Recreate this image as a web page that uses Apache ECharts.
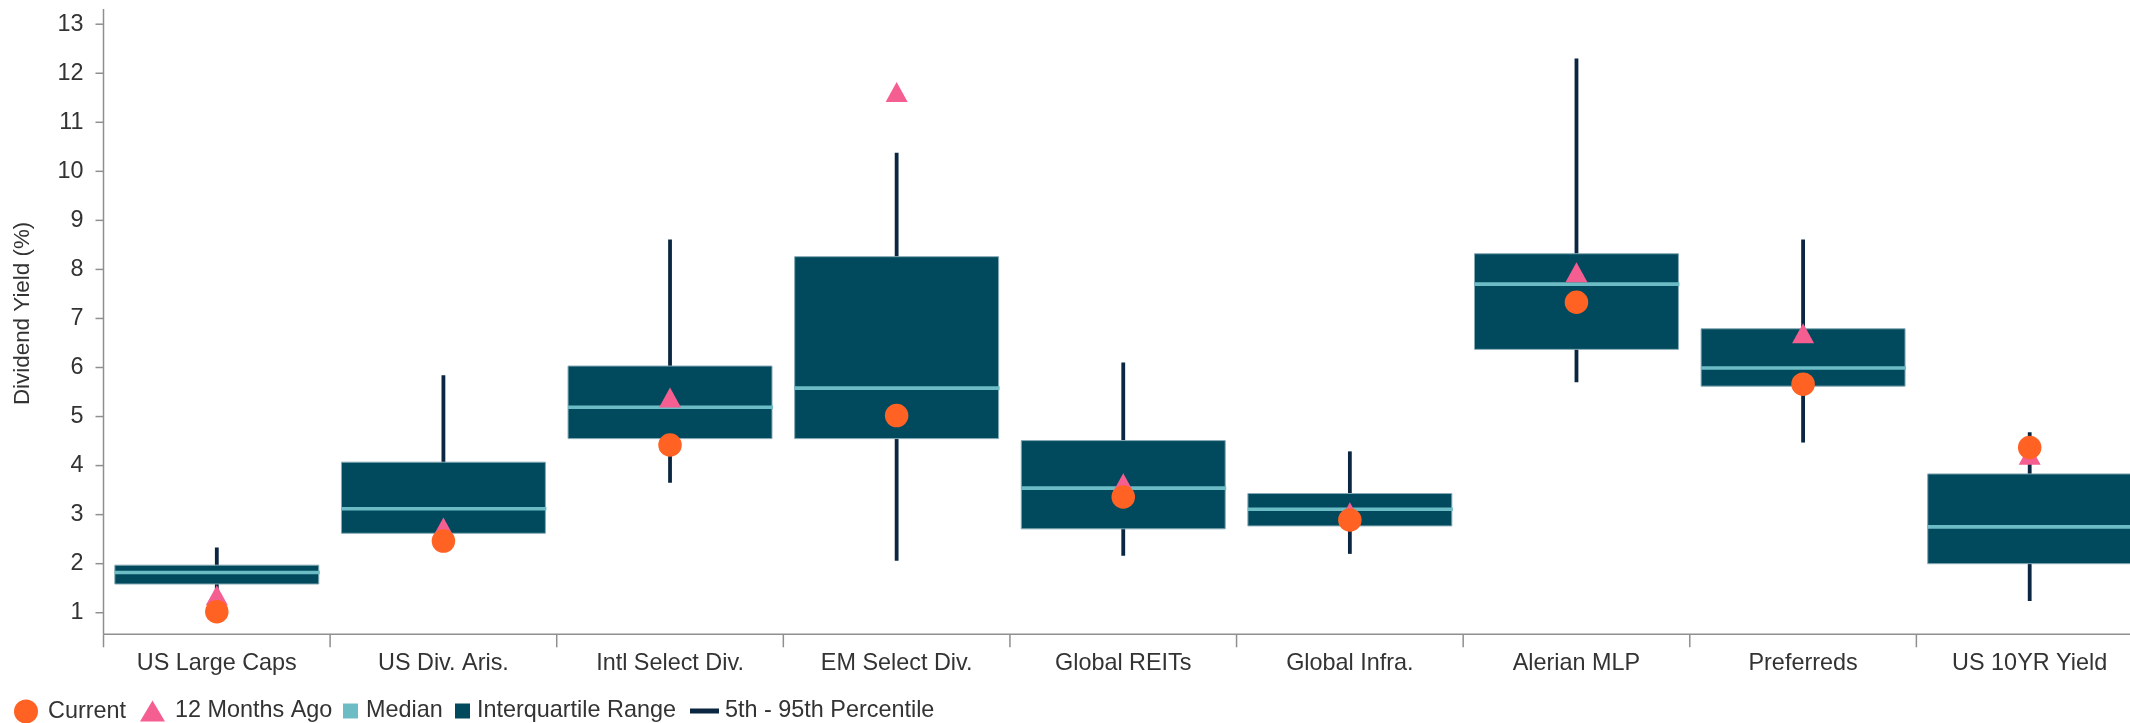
<!DOCTYPE html>
<html>
<head>
<meta charset="utf-8">
<script src="https://cdn.jsdelivr.net/npm/echarts@6/dist/echarts.min.js"></script>
<style>
html,body{margin:0;padding:0;background:#fff;}
#chart{width:2130px;height:723px;}
</style>
</head>
<body>
<div id="chart"></div>
<script>
// ---- data ----
var categories = ['US Large Caps','US Div. Aris.','Intl Select Div.','EM Select Div.','Global REITs','Global Infra.','Alerian MLP','Preferreds','US 10YR Yield'];
var p5      = [1.30, 2.35, 3.65, 2.06, 2.16, 2.20, 5.70, 4.47, 1.24];
var q1      = [1.585, 2.62, 4.55, 4.55, 2.71, 2.77, 6.37, 5.62, 2.00];
var median  = [1.82, 3.12, 5.19, 5.58, 3.54, 3.11, 7.70, 5.99, 2.75];
var q3      = [1.97, 4.07, 6.03, 8.26, 4.51, 3.43, 8.32, 6.79, 3.83];
var p95     = [2.33, 5.84, 8.61, 10.38, 6.10, 4.29, 12.30, 8.61, 4.68];
var current = [1.02, 2.46, 4.42, 5.02, 3.36, 2.89, 7.33, 5.66, 4.37];
var ago     = [1.355, 2.74, 5.39, 11.62, 3.64, 3.05, 7.94, 6.70, 4.22];
var yTicks  = [1,2,3,4,5,6,7,8,9,10,11,12,13];
var Y_MIN = 0.56, Y_MAX = 13.31;

// ---- styles ----
var FONT = '"Liberation Sans", Arial, Helvetica, sans-serif';
var C_BOX = '#014a5e', C_MED = '#6cbcc6', C_WHISK = '#0a2640', C_CUR = '#ff6223', C_AGO = '#f55e90';
var AXIS_C = '#8f8f8f', TXT = '#333333';

var whiskerData = categories.map(function(c,i){ return [i, p5[i], p95[i]]; });
var boxData = categories.map(function(c,i){ return [i, q1[i], q3[i]]; });
var medData = categories.map(function(c,i){ return [i, median[i]]; });
var yGuideData = yTicks.map(function(v){ return [1, v]; });
var xGuideData = categories.map(function(c,i){ return [i, Y_MIN]; });

var chart = echarts.init(document.getElementById('chart'), null, {renderer:'canvas'});

function legendItem(name, icon, color, left, w, h, padLeft){
  return {
    left: left, top: 699.5, padding: 0, itemWidth: w, itemHeight: h,
    data: [{name: name, icon: icon, itemStyle: {color: color, borderWidth: 0}}],
    textStyle: {fontSize: 23.4, color: TXT, fontFamily: FONT, padding: [0,0,0,padLeft]},
    selectedMode: false
  };
}

// left edge of the first category band, measured from category 1
function firstBandLeft(api, yVal){
  var band = api.size([1, 0])[0];
  var c1 = api.coord([1, yVal]);
  return c1[0] - 1.5 * band;
}

var option = {
  backgroundColor: '#ffffff',
  animation: false,
  textStyle: {fontFamily: FONT},
  grid: {left: 103.5, right: -13, top: 9, bottom: 88.7, containLabel: false, outerBoundsMode: 'none'},
  legend: [
    legendItem('Current', 'circle', C_CUR, 14, 24, 24, 5),
    legendItem('12 Months Ago', 'triangle', C_AGO, 140, 25, 21, 5),
    legendItem('Median', 'rect', C_MED, 343, 15, 15, 3),
    legendItem('Interquartile Range', 'rect', C_BOX, 455, 15, 15, 2),
    legendItem('5th - 95th Percentile', 'rect', C_WHISK, 690, 29, 5, 1)
  ],
  graphic: [{
    type: 'text', x: 22.5, y: 313.4, rotation: Math.PI / 2, silent: true,
    style: {text: 'Dividend Yield (%)', align: 'center', verticalAlign: 'middle',
            fontSize: 22.4, fontFamily: FONT, fill: TXT}
  }],
  xAxis: {
    type: 'category',
    data: categories,
    boundaryGap: true,
    axisLine: {show: false, onZero: false},
    axisTick: {show: false},
    axisLabel: {interval: 0, margin: 18, fontSize: 23.4, color: TXT, fontFamily: FONT},
    splitLine: {show: false}
  },
  yAxis: {
    type: 'value',
    min: Y_MIN, max: Y_MAX,
    axisLine: {show: false, onZero: false},
    axisTick: {show: false},
    axisLabel: {show: false},
    splitLine: {show: false}
  },
  series: [
    {
      name: 'yAxisGuide', type: 'custom', silent: true, z: 0,
      encode: {x: 0, y: 1},
      data: yGuideData,
      renderItem: function(params, api){
        var yv = api.value(1);
        var c = api.coord([1, yv]);
        var x0 = firstBandLeft(api, yv);
        var children = [
          {type: 'line', shape: {x1: x0 - 8, y1: c[1], x2: x0, y2: c[1]}, style: {stroke: AXIS_C, lineWidth: 1.5}},
          {type: 'text', style: {text: String(yv), x: x0 - 20, y: c[1], align: 'right', verticalAlign: 'middle',
                                 fontSize: 23.4, fontFamily: FONT, fill: TXT}}
        ];
        if (params.dataIndex === 0) {
          var cs = params.coordSys;
          children.push({type: 'line', shape: {x1: x0, y1: cs.y, x2: x0, y2: cs.y + cs.height},
                         style: {stroke: AXIS_C, lineWidth: 1.5}});
        }
        return {type: 'group', children: children};
      }
    },
    {
      name: 'xAxisGuide', type: 'custom', silent: true, z: 0,
      encode: {x: 0, y: 1},
      data: xGuideData,
      renderItem: function(params, api){
        var band = api.size([1, 0])[0];
        var i = api.value(0);
        var cs = params.coordSys;
        var yb = cs.y + cs.height;
        var xl = (i === 0) ? firstBandLeft(api, api.value(1))
                           : api.coord([i, api.value(1)])[0] - band / 2;
        var children = [
          {type: 'line', shape: {x1: xl, y1: yb, x2: xl, y2: yb + 13}, style: {stroke: AXIS_C, lineWidth: 1.5}}
        ];
        if (params.dataIndex === 0) {
          children.push({type: 'line', shape: {x1: xl, y1: yb, x2: xl + band * categories.length, y2: yb},
                         style: {stroke: AXIS_C, lineWidth: 1.5}});
        }
        return {type: 'group', children: children};
      }
    },
    {
      name: '5th - 95th Percentile',
      type: 'custom',
      z: 1,
      itemStyle: {color: C_WHISK},
      encode: {x: 0, y: [1, 2]},
      data: whiskerData,
      renderItem: function(params, api){
        var x = api.value(0);
        var lo = api.coord([x, api.value(1)]);
        var hi = api.coord([x, api.value(2)]);
        return {type: 'line', shape: {x1: lo[0], y1: lo[1], x2: hi[0], y2: hi[1]},
                style: {stroke: C_WHISK, lineWidth: 3.8}};
      }
    },
    {
      name: 'Interquartile Range',
      type: 'custom',
      z: 2,
      itemStyle: {color: C_BOX},
      encode: {x: 0, y: [1, 2]},
      data: boxData,
      renderItem: function(params, api){
        var x = api.value(0);
        var b = api.coord([x, api.value(1)]);
        var t = api.coord([x, api.value(2)]);
        var w = api.size([1, 0])[0] * 0.9;
        return {type: 'rect', shape: {x: b[0] - w/2, y: t[1], width: w, height: b[1] - t[1]},
                style: {fill: C_BOX, stroke: '#86aab5', lineWidth: 1}};
      }
    },
    {
      name: 'Median',
      type: 'custom',
      z: 3,
      itemStyle: {color: C_MED},
      encode: {x: 0, y: 1},
      data: medData,
      renderItem: function(params, api){
        var x = api.value(0);
        var m = api.coord([x, api.value(1)]);
        var w = api.size([1, 0])[0] * 0.9;
        return {type: 'line', shape: {x1: m[0] - w/2, y1: m[1], x2: m[0] + w/2 + 1, y2: m[1]},
                style: {stroke: C_MED, lineWidth: 3.6}};
      }
    },
    {
      name: '12 Months Ago',
      type: 'scatter',
      z: 4,
      symbol: 'triangle',
      symbolSize: [22, 20],
      itemStyle: {color: C_AGO, opacity: 1},
      data: ago
    },
    {
      name: 'Current',
      type: 'scatter',
      z: 5,
      symbol: 'circle',
      symbolSize: 23.5,
      itemStyle: {color: C_CUR, opacity: 1},
      data: current
    }
  ]
};
chart.setOption(option);
</script>
</body>
</html>
